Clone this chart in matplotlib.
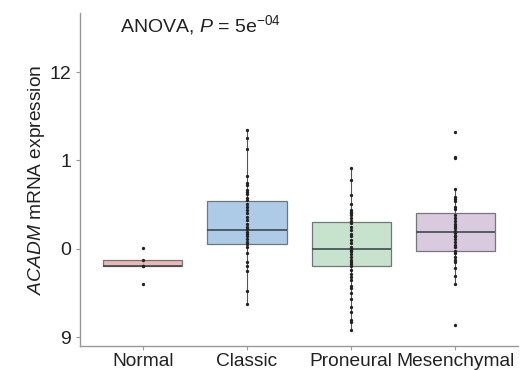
import matplotlib
matplotlib.use("Agg")
import matplotlib.pyplot as plt
import numpy as np

# Subtype groups and box summaries
groups = ["Normal", "Classic", "Proneural", "Mesenchymal"]
box_q1 = [9.80, 10.05, 9.81, 9.98]
box_med = [9.80, 10.21, 10.00, 10.19]
box_q3 = [9.87, 10.54, 10.30, 10.40]
whisk_lo = [9.80, 9.37, 9.08, 9.60]
whisk_hi = [9.87, 11.34, 10.92, 10.68]
box_colors = ["#ecb1b0", "#a9c9e6", "#c4e2cc", "#d8c8de"]

# Individual samples (plotted without jitter)
normal_pts = [10.01, 9.87, 9.81, 9.80, 9.60]
classic_pts = [11.34, 11.25, 11.13, 10.82, 10.74, 10.72, 10.66, 10.64, 10.62,
               10.58, 10.55, 10.51, 10.47, 10.44, 10.41, 10.36, 10.33, 10.28,
               10.25, 10.22, 10.19, 10.17, 10.14, 10.11, 10.08, 10.05, 10.02,
               9.95, 9.85, 9.80, 9.75, 9.52, 9.37]
proneural_pts = [10.92, 10.78, 10.61, 10.51, 10.44, 10.42, 10.40, 10.38, 10.35,
                 10.32, 10.29, 10.25, 10.21, 10.17, 10.14, 10.10, 10.06, 10.02,
                 10.00, 9.98, 9.97, 9.94, 9.91, 9.87, 9.85, 9.83, 9.80, 9.76,
                 9.72, 9.68, 9.65, 9.58, 9.56, 9.50, 9.43, 9.34, 9.28, 9.19,
                 9.17, 9.08]
mesenchymal_pts = [11.32, 11.04, 11.03, 10.68, 10.59, 10.56, 10.54, 10.47, 10.45,
                   10.38, 10.35, 10.31, 10.28, 10.26, 10.23, 10.20, 10.18, 10.15,
                   10.14, 10.11, 10.08, 10.04, 10.02, 9.98, 9.95, 9.91, 9.87,
                   9.85, 9.78, 9.69, 9.60, 9.14]
points = [normal_pts, classic_pts, proneural_pts, mesenchymal_pts]

ytick_vals = [9, 10, 11, 12]
ytick_labels = ["9", "0", "1", "12"]

plt.rcParams["font.family"] = ["Liberation Sans", "DejaVu Sans"]
plt.rcParams["mathtext.fontset"] = "custom"
plt.rcParams["mathtext.rm"] = "Liberation Sans"
plt.rcParams["mathtext.it"] = "Liberation Sans:italic"

fig = plt.figure(figsize=(5.27, 3.70), dpi=100)
ax = fig.add_axes([0.152, 0.065, 0.831, 0.90])

pos = np.arange(1, len(groups) + 1)
stats = [
    dict(q1=box_q1[i], med=box_med[i], q3=box_q3[i],
         whislo=whisk_lo[i], whishi=whisk_hi[i], fliers=[])
    for i in range(len(groups))
]

# whiskers first, so the boxes sit on top of them
for i, p in enumerate(pos):
    ax.plot([p, p], [whisk_lo[i], whisk_hi[i]], color="#555555", lw=0.8, zorder=1)

bp = ax.bxp(stats, positions=pos, widths=0.76, patch_artist=True,
            showcaps=False, manage_ticks=False,
            whiskerprops=dict(linewidth=0),
            medianprops=dict(color="#3d4a4f", linewidth=1.2),
            boxprops=dict(linewidth=0.9))
for patch, c in zip(bp["boxes"], box_colors):
    patch.set_facecolor(c)
    patch.set_edgecolor("#6b7173")
    patch.set_alpha(0.95)
    patch.set_zorder(2)
for m in bp["medians"]:
    m.set_zorder(3)

for p, pts in zip(pos, points):
    ax.plot(np.full(len(pts), p), pts, "o", color="#222222",
            markersize=2.4, markeredgewidth=0, zorder=4)

ax.set_xlim(0.4, 4.6)
ax.set_ylim(8.90, 12.67)
ax.set_xticks(pos)
ax.set_xticklabels(groups, fontsize=13.8)
ax.set_yticks(ytick_vals)
ax.set_yticklabels(ytick_labels, fontsize=14)
ax.tick_params(axis="x", pad=2)
ax.tick_params(length=3, width=0.8, color="#999999", labelcolor="#222222")
ax.set_ylabel(r"$\it{ACADM}$ mRNA expression", fontsize=13.8, color="#222222", labelpad=2)

for s in ["top", "right"]:
    ax.spines[s].set_visible(False)
for s in ["left", "bottom"]:
    ax.spines[s].set_color("#999999")
    ax.spines[s].set_linewidth(1.0)

ax.text(0.092, 1.0, r"ANOVA, $P$ = 5e$^{-04}$", transform=ax.transAxes,
        fontsize=14, va="top", ha="left", color="#222222")

fig.savefig("out.png", dpi=100)
